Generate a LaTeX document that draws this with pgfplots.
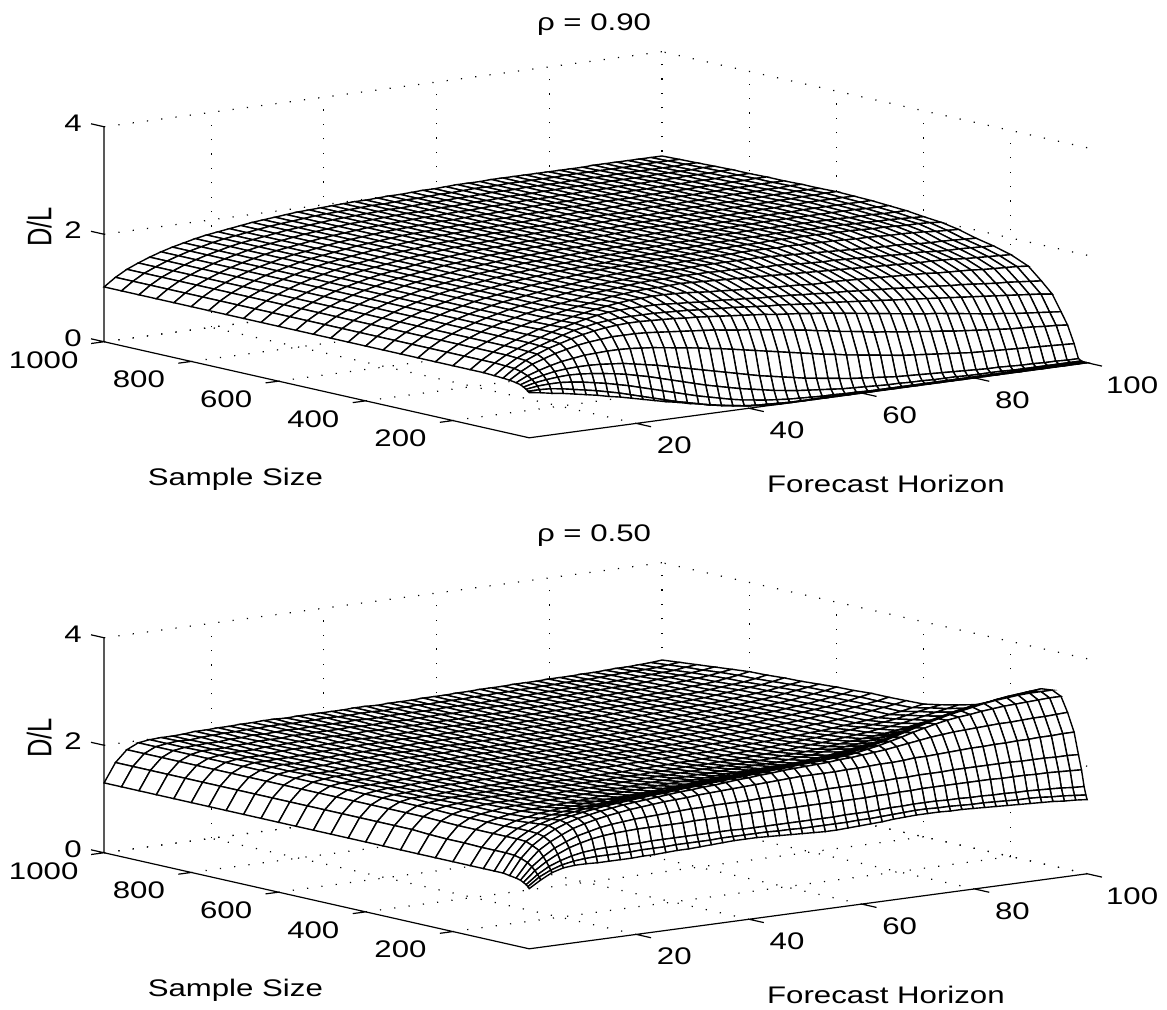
\documentclass[border=0pt]{standalone}
\usepackage{pgfplots}
\usepackage{fontspec}
\setmainfont[FakeStretch=1.3]{Liberation Sans}
\newfontfamily\rotf[FakeStretch=0.75]{Liberation Sans}
\pgfplotsset{compat=1.18}
\pgfplotsset{myax/.style={
  disabledatascaling,
  x={(2.818pt,0.379pt)},y={(-0.218pt,0.04925pt)},z={(0pt,26.875pt)},
  xmin=1,xmax=100,ymin=25,ymax=1000,zmin=0,zmax=4,
  xtick={20,40,60,80,100},ytick={200,400,600,800,1000},ztick={0,2,4},
  xticklabels={20,40,60,80,{\hspace*{7pt}100}},
  yticklabels={200,400,600,800,{\raisebox{-0.5pt}{1000}\hspace*{8pt}}},
  anchor=origin,clip=false,
  font=\fontsize{12}{13}\selectfont,
  /pgf/number format/assume math mode=true,
  tick label style={font=\fontsize{12}{13}\selectfont},
  grid=major,
  grid style={black,line width=0.6pt,dash pattern=on 0.6pt off 6.6pt},
  axis line style={draw=none},
  tick style={draw=none},
  major tick length=0pt,
  xticklabel style={anchor=center,xshift=19pt,yshift=-11pt},
  yticklabel style={anchor=center,xshift=-26.2pt,yshift=-9pt},
  zticklabel style={anchor=center,xshift=-15.5pt,yshift=2pt},
  xlabel={Forecast Horizon},ylabel={Sample Size},zlabel={\rotf\fontsize{17}{18}\selectfont D/L},
  xlabel style={at={(axis cs:64.3,25,-1.75)},anchor=center},
  ylabel style={at={(axis cs:1,699,-2.0)},anchor=center},
  zlabel style={at={(axis cs:1,1149,1.866)},anchor=center},
  title style={at={(axis cs:12.5,25,7.30)},anchor=center},
}}
\pgfplotsset{mysurf/.style={surf,shader=faceted,faceted color=black,colormap={w}{color=(white) color=(white)},line width=0.7pt,z buffer=sort,mesh/cols=50}}
\def\Tval{\ifcase\numexpr(\coordindex+25)/50-1\relax 1000\or 960\or 920\or 880\or 840\or 800\or 760\or 720\or 680\or 640\or 600\or 560\or 520\or 480\or 440\or 400\or 360\or 320\or 280\or 240\or 200\or 160\or 130\or 105\or 85\or 70\or 55\or 45\or 38\or 32\or 28\or 25\fi}
\newcommand\axlines{\addplot3[black,line width=0.6pt,unbounded coords=jump] coordinates {(1,1000,4)(1,1000,0)(1,25,0)(100,25,0)
 (1,1000,nan)(1,1000,0)(1,1030,0)(1,1000,nan)(1,1000,2)(1,1030,2)(1,1000,nan)(1,1000,4)(1,1030,4)
 (1,1000,nan)(20,25,0)(20,-9,0)(1,1000,nan)(40,25,0)(40,-9,0)(1,1000,nan)(60,25,0)(60,-9,0)(1,1000,nan)(80,25,0)(80,-9,0)(1,1000,nan)(100,25,0)(100,-9,0)
 (1,1000,nan)(1,200,0)(-1.3,200,0)(1,1000,nan)(1,400,0)(-1.3,400,0)(1,1000,nan)(1,600,0)(-1.3,600,0)(1,1000,nan)(1,800,0)(-1.3,800,0)(1,1000,nan)(1,1000,0)(-1.3,1000,0)};}
\begin{document}
\begin{tikzpicture}[x=1pt,y=1pt]
\path[use as bounding box] (0,0) rectangle (583.5,504.5);
\begin{axis}[myax,at={(264.6pt,285.6pt)},title={ρ = 0.90}]
\axlines
\addplot3[mysurf]
 table[x expr={1+99/49*mod(\coordindex,50)},y expr={\Tval},z index=0,header=false]{
1.02
1.17
1.29
1.38
1.46
1.53
1.59
1.64
1.69
1.73
1.76
1.79
1.82
1.85
1.87
1.89
1.91
1.93
1.94
1.95
1.96
1.97
1.98
1.98
1.99
2.00
2.00
2.01
2.02
2.02
2.03
2.04
2.04
2.04
2.05
2.05
2.05
2.05
2.05
2.05
2.05
2.05
2.05
2.06
2.06
2.06
2.06
2.06
2.06
2.06
1.02
1.17
1.29
1.38
1.46
1.53
1.59
1.64
1.69
1.73
1.76
1.79
1.82
1.85
1.87
1.89
1.91
1.93
1.94
1.95
1.96
1.97
1.98
1.98
1.99
2.00
2.00
2.01
2.02
2.02
2.03
2.04
2.04
2.04
2.05
2.05
2.05
2.05
2.05
2.06
2.06
2.06
2.06
2.06
2.06
2.06
2.07
2.07
2.07
2.07
1.02
1.17
1.29
1.38
1.46
1.53
1.59
1.64
1.69
1.73
1.76
1.79
1.82
1.85
1.87
1.89
1.91
1.93
1.94
1.95
1.96
1.97
1.98
1.98
1.99
2.00
2.00
2.01
2.02
2.02
2.03
2.04
2.04
2.04
2.05
2.05
2.05
2.05
2.06
2.06
2.06
2.06
2.07
2.07
2.07
2.07
2.07
2.07
2.08
2.08
1.02
1.17
1.29
1.38
1.46
1.53
1.59
1.64
1.69
1.73
1.76
1.79
1.82
1.85
1.87
1.89
1.91
1.93
1.94
1.95
1.96
1.97
1.98
1.98
1.99
2.00
2.00
2.01
2.02
2.02
2.03
2.04
2.04
2.04
2.05
2.05
2.06
2.06
2.06
2.06
2.07
2.07
2.07
2.07
2.08
2.08
2.08
2.08
2.09
2.09
1.02
1.17
1.29
1.38
1.46
1.53
1.59
1.64
1.69
1.73
1.76
1.79
1.82
1.85
1.87
1.89
1.91
1.93
1.94
1.95
1.96
1.97
1.98
1.98
1.99
2.00
2.00
2.01
2.02
2.02
2.03
2.04
2.04
2.04
2.05
2.05
2.06
2.06
2.06
2.07
2.07
2.07
2.08
2.08
2.08
2.09
2.09
2.09
2.10
2.10
1.02
1.17
1.29
1.38
1.46
1.53
1.59
1.64
1.69
1.73
1.76
1.79
1.82
1.85
1.87
1.89
1.91
1.93
1.94
1.95
1.96
1.97
1.98
1.98
1.99
2.00
2.00
2.01
2.02
2.02
2.03
2.04
2.04
2.04
2.05
2.05
2.06
2.06
2.07
2.07
2.07
2.08
2.08
2.08
2.09
2.09
2.09
2.10
2.10
2.10
1.02
1.17
1.29
1.38
1.46
1.53
1.59
1.64
1.69
1.73
1.76
1.79
1.82
1.85
1.87
1.89
1.91
1.93
1.94
1.95
1.96
1.97
1.98
1.98
1.99
2.00
2.00
2.01
2.02
2.02
2.03
2.04
2.04
2.04
2.05
2.06
2.06
2.06
2.07
2.07
2.08
2.08
2.08
2.09
2.09
2.09
2.10
2.10
2.11
2.11
1.02
1.17
1.29
1.38
1.46
1.53
1.59
1.64
1.69
1.73
1.76
1.79
1.82
1.85
1.87
1.89
1.91
1.93
1.94
1.95
1.96
1.97
1.98
1.98
1.99
2.00
2.00
2.01
2.02
2.02
2.03
2.04
2.04
2.04
2.05
2.06
2.06
2.07
2.07
2.08
2.08
2.08
2.09
2.09
2.10
2.10
2.10
2.11
2.11
2.11
1.02
1.17
1.29
1.38
1.46
1.53
1.59
1.64
1.69
1.73
1.76
1.79
1.82
1.85
1.87
1.89
1.91
1.93
1.94
1.95
1.96
1.97
1.98
1.98
1.99
2.00
2.00
2.01
2.02
2.02
2.03
2.04
2.04
2.04
2.05
2.06
2.07
2.07
2.07
2.08
2.08
2.09
2.09
2.10
2.10
2.10
2.11
2.11
2.12
2.12
1.02
1.17
1.29
1.38
1.46
1.53
1.59
1.64
1.69
1.73
1.76
1.79
1.82
1.85
1.87
1.89
1.91
1.93
1.94
1.95
1.96
1.97
1.98
1.98
1.99
2.00
2.00
2.01
2.02
2.02
2.03
2.04
2.04
2.05
2.05
2.06
2.07
2.07
2.08
2.08
2.09
2.09
2.09
2.10
2.10
2.11
2.11
2.12
2.12
2.12
1.02
1.17
1.29
1.38
1.46
1.53
1.59
1.64
1.69
1.73
1.76
1.79
1.82
1.85
1.87
1.89
1.91
1.93
1.94
1.95
1.96
1.97
1.98
1.98
1.99
2.00
2.00
2.01
2.02
2.02
2.03
2.04
2.05
2.05
2.06
2.07
2.07
2.08
2.08
2.08
2.09
2.09
2.10
2.10
2.11
2.11
2.12
2.12
2.13
2.13
1.02
1.17
1.29
1.38
1.46
1.53
1.59
1.64
1.69
1.73
1.76
1.79
1.82
1.85
1.87
1.89
1.91
1.93
1.94
1.95
1.96
1.97
1.98
1.98
1.99
2.00
2.00
2.01
2.02
2.03
2.04
2.05
2.05
2.06
2.06
2.07
2.08
2.08
2.08
2.09
2.09
2.10
2.10
2.11
2.11
2.12
2.12
2.12
2.12
2.12
1.02
1.17
1.29
1.38
1.46
1.53
1.59
1.64
1.69
1.73
1.76
1.79
1.82
1.85
1.87
1.89
1.91
1.93
1.94
1.95
1.96
1.97
1.98
1.98
1.99
2.00
2.00
2.01
2.02
2.03
2.04
2.05
2.06
2.06
2.07
2.07
2.08
2.08
2.09
2.09
2.10
2.10
2.10
2.11
2.11
2.11
2.11
2.11
2.11
2.11
1.02
1.17
1.29
1.38
1.46
1.53
1.59
1.64
1.69
1.73
1.76
1.79
1.82
1.85
1.87
1.89
1.91
1.93
1.94
1.95
1.96
1.97
1.98
1.98
1.99
2.00
2.01
2.02
2.03
2.04
2.05
2.06
2.06
2.07
2.07
2.08
2.09
2.09
2.10
2.10
2.10
2.10
2.10
2.10
2.10
2.10
2.10
2.09
2.09
2.09
1.02
1.17
1.29
1.38
1.46
1.53
1.59
1.64
1.69
1.73
1.76
1.79
1.82
1.85
1.87
1.89
1.91
1.93
1.94
1.95
1.96
1.97
1.98
1.99
2.00
2.01
2.02
2.03
2.04
2.05
2.05
2.06
2.07
2.08
2.08
2.09
2.09
2.09
2.09
2.09
2.09
2.09
2.09
2.09
2.08
2.08
2.08
2.07
2.07
2.07
1.02
1.17
1.29
1.38
1.46
1.53
1.59
1.64
1.69
1.73
1.76
1.79
1.82
1.85
1.87
1.89
1.91
1.93
1.94
1.95
1.96
1.97
1.99
2.00
2.01
2.02
2.03
2.03
2.04
2.05
2.06
2.07
2.07
2.08
2.08
2.08
2.09
2.09
2.09
2.08
2.08
2.08
2.08
2.07
2.07
2.06
2.06
2.05
2.04
2.03
1.02
1.17
1.29
1.38
1.46
1.53
1.59
1.64
1.69
1.73
1.76
1.79
1.82
1.85
1.87
1.89
1.91
1.93
1.95
1.97
1.98
1.99
2.00
2.01
2.02
2.03
2.03
2.04
2.05
2.05
2.06
2.07
2.07
2.07
2.08
2.08
2.08
2.08
2.08
2.07
2.07
2.07
2.06
2.05
2.05
2.04
2.03
2.03
2.02
2.00
1.02
1.17
1.29
1.38
1.46
1.53
1.59
1.64
1.69
1.73
1.76
1.79
1.82
1.85
1.87
1.89
1.92
1.94
1.96
1.97
1.99
2.00
2.01
2.01
2.02
2.03
2.03
2.04
2.05
2.05
2.06
2.06
2.06
2.05
2.06
2.05
2.05
2.04
2.04
2.03
2.02
2.02
2.01
2.00
2.00
1.99
1.98
1.96
1.95
1.94
1.02
1.17
1.29
1.38
1.46
1.53
1.59
1.64
1.69
1.73
1.76
1.79
1.82
1.85
1.88
1.90
1.93
1.95
1.96
1.98
1.99
2.00
2.01
2.01
2.02
2.03
2.03
2.03
2.03
2.03
2.03
2.02
2.01
2.00
1.99
1.98
1.97
1.96
1.95
1.94
1.93
1.92
1.92
1.91
1.89
1.88
1.88
1.87
1.86
1.85
1.02
1.17
1.29
1.38
1.46
1.53
1.59
1.64
1.69
1.73
1.76
1.79
1.82
1.86
1.90
1.92
1.94
1.96
1.98
1.99
1.99
2.00
2.00
2.00
2.00
1.99
1.99
1.98
1.97
1.96
1.96
1.95
1.93
1.92
1.91
1.91
1.90
1.89
1.88
1.87
1.86
1.85
1.85
1.84
1.82
1.81
1.81
1.80
1.79
1.78
1.02
1.17
1.29
1.38
1.46
1.53
1.59
1.64
1.69
1.73
1.77
1.81
1.84
1.88
1.91
1.93
1.95
1.96
1.96
1.97
1.98
1.97
1.96
1.95
1.94
1.93
1.92
1.91
1.90
1.89
1.88
1.87
1.86
1.85
1.84
1.83
1.82
1.81
1.80
1.79
1.78
1.77
1.77
1.76
1.75
1.73
1.72
1.71
1.70
1.69
1.02
1.17
1.29
1.38
1.46
1.53
1.60
1.65
1.70
1.75
1.79
1.83
1.86
1.89
1.91
1.92
1.93
1.93
1.92
1.91
1.89
1.87
1.86
1.84
1.83
1.82
1.80
1.79
1.78
1.77
1.75
1.75
1.75
1.74
1.73
1.72
1.71
1.70
1.69
1.68
1.67
1.65
1.64
1.63
1.62
1.60
1.59
1.58
1.57
1.55
1.02
1.17
1.29
1.38
1.46
1.53
1.60
1.66
1.71
1.76
1.80
1.83
1.84
1.85
1.85
1.85
1.84
1.82
1.81
1.79
1.78
1.77
1.75
1.74
1.72
1.71
1.70
1.69
1.67
1.66
1.64
1.63
1.62
1.60
1.59
1.57
1.56
1.54
1.52
1.51
1.49
1.47
1.46
1.44
1.42
1.40
1.39
1.37
1.35
1.33
1.01
1.16
1.28
1.37
1.45
1.52
1.59
1.65
1.69
1.73
1.75
1.77
1.77
1.77
1.77
1.76
1.75
1.74
1.72
1.71
1.69
1.68
1.66
1.64
1.62
1.61
1.59
1.57
1.55
1.54
1.52
1.50
1.48
1.46
1.44
1.42
1.40
1.38
1.36
1.34
1.32
1.30
1.28
1.26
1.24
1.22
1.20
1.18
1.16
1.13
1.00
1.15
1.27
1.36
1.44
1.50
1.56
1.61
1.65
1.68
1.70
1.71
1.71
1.70
1.69
1.68
1.66
1.65
1.63
1.61
1.59
1.57
1.55
1.53
1.50
1.48
1.46
1.43
1.41
1.38
1.35
1.32
1.29
1.26
1.23
1.20
1.17
1.14
1.12
1.09
1.06
1.03
1.00
0.97
0.95
0.92
0.90
0.88
0.86
0.84
0.99
1.12
1.23
1.30
1.37
1.42
1.47
1.50
1.52
1.54
1.54
1.54
1.53
1.51
1.49
1.47
1.45
1.43
1.41
1.38
1.35
1.33
1.30
1.27
1.24
1.21
1.18
1.14
1.11
1.07
1.04
1.01
0.97
0.95
0.92
0.89
0.87
0.84
0.82
0.79
0.77
0.75
0.73
0.71
0.69
0.68
0.67
0.65
0.64
0.62
0.97
1.07
1.14
1.20
1.25
1.28
1.31
1.32
1.33
1.33
1.32
1.30
1.28
1.25
1.22
1.19
1.16
1.12
1.09
1.05
1.01
0.97
0.93
0.89
0.85
0.81
0.77
0.73
0.70
0.66
0.63
0.60
0.57
0.54
0.51
0.49
0.47
0.45
0.43
0.41
0.39
0.38
0.37
0.36
0.35
0.34
0.33
0.32
0.31
0.30
0.95
1.02
1.07
1.11
1.13
1.14
1.14
1.13
1.11
1.09
1.05
1.01
0.97
0.92
0.87
0.82
0.77
0.72
0.67
0.62
0.57
0.52
0.48
0.44
0.40
0.36
0.33
0.30
0.27
0.24
0.22
0.20
0.18
0.16
0.15
0.14
0.13
0.12
0.11
0.10
0.09
0.08
0.08
0.07
0.06
0.06
0.05
0.05
0.04
0.04
0.92
0.97
1.00
1.02
1.03
1.02
1.00
0.97
0.94
0.90
0.85
0.80
0.74
0.68
0.62
0.56
0.50
0.45
0.40
0.35
0.31
0.27
0.23
0.20
0.17
0.15
0.13
0.11
0.09
0.08
0.07
0.06
0.05
0.05
0.04
0.04
0.03
0.03
0.03
0.02
0.02
0.02
0.02
0.01
0.01
0.01
0.01
0.01
0.01
0.01
0.89
0.92
0.93
0.93
0.91
0.88
0.84
0.80
0.75
0.70
0.64
0.58
0.52
0.46
0.40
0.34
0.29
0.24
0.19
0.15
0.12
0.09
0.07
0.05
0.04
0.03
0.02
0.02
0.01
0.01
0
0
0
0
0
0
0
0
0
0
0
0
0
0
0
0
0
0
0
0
0.86
0.86
0.85
0.82
0.78
0.74
0.70
0.65
0.60
0.54
0.48
0.42
0.36
0.30
0.25
0.20
0.15
0.11
0.08
0.05
0.03
0.02
0.01
0
0
0
0
0
0
0
0
0
0
0
0
0
0
0
0
0
0
0
0
0
0
0
0
0
0
0
0.84
0.81
0.77
0.74
0.70
0.66
0.62
0.57
0.53
0.48
0.43
0.38
0.33
0.29
0.24
0.20
0.16
0.12
0.08
0.05
0.03
0.01
0
0
0
0
0
0
0
0
0
0
0
0
0
0
0
0
0
0
0
0
0
0
0
0
0
0
0
0
};
\end{axis}
\begin{axis}[myax,at={(264.6pt,30.1pt)},title={ρ = 0.50}]
\axlines
\addplot3[mysurf]
 table[x expr={1+99/49*mod(\coordindex,50)},y expr={\Tval},z index=0,header=false]{
1.30
1.65
1.86
1.96
1.99
2.00
2.00
2.01
2.03
2.03
2.04
2.04
2.05
2.05
2.06
2.06
2.05
2.06
2.06
2.06
2.06
2.06
2.07
2.07
2.06
2.07
2.07
2.07
2.08
2.08
2.08
2.09
2.09
2.10
2.10
2.10
2.11
2.11
2.11
2.12
2.12
2.12
2.13
2.13
2.14
2.15
2.15
2.16
2.17
2.19
1.30
1.65
1.86
1.96
1.99
2.01
2.00
2.02
2.03
2.04
2.04
2.05
2.05
2.06
2.06
2.05
2.06
2.06
2.07
2.06
2.06
2.07
2.07
2.06
2.07
2.07
2.08
2.07
2.08
2.08
2.08
2.09
2.09
2.10
2.10
2.11
2.11
2.12
2.12
2.13
2.13
2.13
2.14
2.15
2.16
2.17
2.17
2.18
2.20
2.22
1.30
1.65
1.86
1.96
1.99
2.00
2.01
2.01
2.03
2.03
2.05
2.04
2.05
2.06
2.05
2.06
2.06
2.06
2.06
2.07
2.06
2.06
2.07
2.07
2.07
2.07
2.07
2.08
2.08
2.08
2.08
2.09
2.09
2.10
2.11
2.11
2.12
2.12
2.13
2.13
2.14
2.14
2.15
2.16
2.17
2.18
2.19
2.20
2.23
2.25
1.30
1.65
1.86
1.96
2.00
2.00
2.00
2.02
2.02
2.04
2.04
2.04
2.06
2.05
2.06
2.06
2.06
2.07
2.06
2.06
2.07
2.07
2.06
2.07
2.07
2.08
2.07
2.08
2.08
2.09
2.09
2.09
2.10
2.10
2.11
2.12
2.12
2.13
2.14
2.14
2.15
2.15
2.16
2.17
2.19
2.20
2.21
2.23
2.25
2.28
1.30
1.65
1.86
1.96
1.99
2.01
2.01
2.01
2.03
2.03
2.04
2.05
2.05
2.06
2.06
2.05
2.06
2.07
2.06
2.07
2.07
2.06
2.07
2.07
2.07
2.07
2.08
2.08
2.08
2.08
2.09
2.10
2.10
2.11
2.12
2.12
2.13
2.14
2.14
2.15
2.16
2.16
2.17
2.18
2.20
2.21
2.23
2.25
2.28
2.31
1.30
1.65
1.86
1.96
1.99
2.00
2.00
2.02
2.03
2.04
2.04
2.04
2.05
2.05
2.07
2.06
2.05
2.06
2.06
2.06
2.07
2.07
2.07
2.07
2.07
2.07
2.08
2.08
2.08
2.09
2.09
2.10
2.10
2.11
2.12
2.13
2.13
2.14
2.15
2.15
2.16
2.17
2.18
2.19
2.21
2.22
2.24
2.27
2.30
2.34
1.30
1.65
1.86
1.96
2.00
2.00
2.01
2.01
2.02
2.03
2.04
2.05
2.05
2.06
2.06
2.06
2.06
2.07
2.06
2.07
2.06
2.07
2.07
2.08
2.08
2.08
2.08
2.08
2.09
2.09
2.10
2.10
2.10
2.11
2.12
2.13
2.14
2.15
2.15
2.16
2.17
2.18
2.19
2.20
2.22
2.24
2.26
2.28
2.31
2.35
1.30
1.65
1.86
1.96
1.99
2.01
2.00
2.02
2.03
2.03
2.05
2.04
2.05
2.05
2.06
2.05
2.06
2.07
2.06
2.07
2.07
2.07
2.07
2.07
2.08
2.08
2.08
2.09
2.09
2.09
2.10
2.11
2.11
2.12
2.13
2.14
2.14
2.15
2.16
2.17
2.18
2.19
2.20
2.22
2.24
2.26
2.28
2.30
2.33
2.37
1.30
1.65
1.86
1.96
1.99
2.00
2.01
2.01
2.03
2.04
2.04
2.04
2.06
2.06
2.06
2.06
2.06
2.06
2.07
2.06
2.07
2.07
2.07
2.07
2.08
2.08
2.08
2.09
2.09
2.10
2.10
2.11
2.11
2.12
2.13
2.14
2.15
2.16
2.17
2.18
2.19
2.20
2.21
2.23
2.25
2.27
2.29
2.32
2.35
2.38
1.30
1.65
1.86
1.96
2.00
2.00
2.00
2.02
2.02
2.03
2.04
2.05
2.05
2.06
2.06
2.06
2.06
2.07
2.07
2.07
2.06
2.07
2.07
2.08
2.08
2.08
2.09
2.09
2.09
2.10
2.10
2.11
2.12
2.12
2.13
2.14
2.15
2.16
2.17
2.18
2.20
2.21
2.22
2.24
2.26
2.28
2.31
2.34
2.37
2.40
1.30
1.65
1.86
1.96
1.99
2.01
2.01
2.01
2.03
2.03
2.04
2.04
2.05
2.06
2.06
2.05
2.06
2.06
2.07
2.07
2.07
2.07
2.07
2.08
2.08
2.08
2.09
2.09
2.10
2.10
2.11
2.11
2.12
2.13
2.14
2.15
2.16
2.17
2.18
2.19
2.20
2.22
2.23
2.25
2.27
2.29
2.32
2.35
2.38
2.42
1.30
1.65
1.86
1.96
1.99
2.00
2.00
2.02
2.03
2.04
2.05
2.04
2.05
2.05
2.07
2.06
2.06
2.06
2.06
2.07
2.07
2.07
2.08
2.08
2.08
2.09
2.09
2.09
2.10
2.10
2.11
2.12
2.12
2.13
2.14
2.15
2.16
2.17
2.18
2.20
2.21
2.23
2.24
2.26
2.28
2.30
2.33
2.36
2.39
2.43
1.30
1.65
1.86
1.96
2.00
2.00
2.01
2.01
2.02
2.03
2.04
2.05
2.05
2.06
2.06
2.06
2.07
2.06
2.07
2.07
2.07
2.08
2.08
2.08
2.09
2.09
2.09
2.10
2.10
2.10
2.11
2.12
2.13
2.14
2.15
2.16
2.17
2.18
2.19
2.20
2.22
2.23
2.25
2.27
2.29
2.31
2.34
2.37
2.41
2.45
1.30
1.65
1.86
1.96
1.99
2.01
2.00
2.02
2.03
2.03
2.04
2.04
2.05
2.06
2.06
2.06
2.06
2.07
2.07
2.07
2.08
2.08
2.08
2.09
2.09
2.09
2.10
2.10
2.10
2.11
2.11
2.12
2.13
2.14
2.15
2.16
2.17
2.18
2.19
2.21
2.22
2.24
2.26
2.28
2.30
2.32
2.35
2.38
2.41
2.45
1.30
1.65
1.86
1.96
1.99
2.00
2.01
2.01
2.03
2.04
2.04
2.05
2.05
2.05
2.06
2.06
2.06
2.07
2.07
2.08
2.08
2.08
2.09
2.09
2.10
2.10
2.10
2.11
2.11
2.12
2.12
2.13
2.14
2.14
2.15
2.16
2.18
2.19
2.20
2.21
2.23
2.25
2.26
2.28
2.30
2.33
2.36
2.39
2.42
2.46
1.30
1.65
1.86
1.96
2.00
2.00
2.00
2.02
2.03
2.03
2.04
2.04
2.05
2.06
2.06
2.06
2.07
2.07
2.08
2.08
2.08
2.09
2.09
2.10
2.10
2.10
2.11
2.11
2.12
2.12
2.12
2.13
2.14
2.15
2.16
2.17
2.18
2.19
2.20
2.22
2.23
2.25
2.27
2.29
2.31
2.33
2.36
2.39
2.43
2.47
1.30
1.65
1.86
1.96
1.99
2.01
2.03
2.03
2.04
2.05
2.05
2.06
2.06
2.06
2.07
2.07
2.07
2.07
2.07
2.08
2.08
2.08
2.09
2.09
2.10
2.10
2.11
2.11
2.12
2.12
2.13
2.14
2.15
2.16
2.17
2.19
2.20
2.22
2.23
2.25
2.27
2.29
2.31
2.33
2.35
2.38
2.42
2.46
2.50
2.53
1.30
1.65
1.86
1.96
2.00
2.02
2.04
2.05
2.06
2.06
2.06
2.07
2.07
2.08
2.08
2.08
2.09
2.09
2.09
2.10
2.10
2.10
2.11
2.11
2.12
2.13
2.13
2.13
2.14
2.14
2.15
2.16
2.17
2.18
2.19
2.21
2.23
2.24
2.26
2.28
2.30
2.32
2.35
2.37
2.40
2.44
2.48
2.52
2.56
2.60
1.30
1.63
1.85
1.95
2.00
2.03
2.05
2.06
2.06
2.07
2.07
2.08
2.08
2.09
2.09
2.10
2.10
2.11
2.12
2.12
2.13
2.14
2.14
2.15
2.15
2.16
2.16
2.17
2.17
2.18
2.18
2.19
2.21
2.22
2.23
2.25
2.27
2.29
2.31
2.33
2.35
2.37
2.40
2.43
2.47
2.50
2.55
2.60
2.64
2.68
1.30
1.62
1.84
1.95
2.00
2.03
2.06
2.07
2.07
2.08
2.09
2.09
2.10
2.11
2.12
2.13
2.13
2.14
2.15
2.16
2.17
2.18
2.18
2.19
2.19
2.20
2.21
2.21
2.22
2.22
2.22
2.24
2.26
2.27
2.30
2.32
2.34
2.36
2.39
2.42
2.45
2.48
2.52
2.56
2.60
2.65
2.70
2.75
2.78
2.82
1.30
1.62
1.84
1.95
2.00
2.04
2.07
2.08
2.09
2.10
2.11
2.12
2.13
2.15
2.16
2.17
2.18
2.19
2.20
2.21
2.22
2.22
2.23
2.24
2.25
2.25
2.26
2.26
2.27
2.27
2.28
2.30
2.32
2.34
2.37
2.40
2.43
2.46
2.50
2.54
2.58
2.62
2.67
2.72
2.78
2.84
2.90
2.93
2.96
2.98
1.30
1.61
1.84
1.95
2.02
2.06
2.10
2.12
2.14
2.15
2.17
2.18
2.19
2.20
2.21
2.22
2.23
2.25
2.26
2.27
2.29
2.30
2.31
2.32
2.33
2.34
2.35
2.36
2.37
2.38
2.38
2.40
2.43
2.46
2.49
2.53
2.58
2.62
2.66
2.71
2.75
2.80
2.85
2.90
2.95
2.99
3.02
3.05
3.08
3.10
1.30
1.61
1.84
1.96
2.04
2.09
2.13
2.16
2.18
2.20
2.21
2.23
2.25
2.26
2.28
2.29
2.30
2.32
2.33
2.35
2.36
2.37
2.39
2.40
2.41
2.42
2.43
2.45
2.46
2.47
2.48
2.51
2.54
2.58
2.63
2.68
2.73
2.78
2.84
2.89
2.94
2.99
3.04
3.08
3.12
3.16
3.19
3.21
3.23
3.25
1.30
1.61
1.84
1.96
2.06
2.12
2.17
2.20
2.23
2.25
2.27
2.29
2.30
2.32
2.34
2.35
2.37
2.38
2.40
2.41
2.43
2.44
2.45
2.47
2.48
2.50
2.51
2.53
2.54
2.56
2.57
2.60
2.64
2.68
2.73
2.79
2.85
2.91
2.97
3.02
3.07
3.11
3.15
3.19
3.22
3.24
3.26
3.27
3.27
3.27
1.30
1.60
1.83
1.95
2.07
2.14
2.19
2.23
2.26
2.29
2.31
2.33
2.35
2.37
2.38
2.40
2.42
2.43
2.45
2.46
2.48
2.49
2.51
2.52
2.54
2.55
2.57
2.58
2.59
2.61
2.62
2.65
2.69
2.73
2.78
2.83
2.89
2.94
2.99
3.03
3.06
3.08
3.11
3.13
3.15
3.16
3.17
3.18
3.19
3.19
1.28
1.57
1.78
1.92
2.03
2.11
2.17
2.21
2.25
2.28
2.31
2.33
2.35
2.37
2.39
2.41
2.42
2.44
2.45
2.47
2.49
2.50
2.52
2.53
2.55
2.56
2.57
2.58
2.59
2.61
2.62
2.64
2.66
2.68
2.71
2.74
2.77
2.80
2.82
2.84
2.85
2.86
2.87
2.88
2.88
2.89
2.90
2.90
2.91
2.92
1.26
1.52
1.72
1.85
1.95
2.04
2.10
2.15
2.19
2.22
2.25
2.27
2.29
2.31
2.32
2.33
2.35
2.36
2.37
2.38
2.39
2.40
2.41
2.42
2.43
2.44
2.44
2.44
2.44
2.45
2.45
2.46
2.47
2.47
2.48
2.50
2.50
2.51
2.52
2.53
2.54
2.54
2.55
2.55
2.56
2.56
2.57
2.57
2.58
2.58
1.24
1.46
1.62
1.75
1.84
1.92
1.97
2.02
2.05
2.07
2.09
2.10
2.11
2.12
2.13
2.14
2.14
2.15
2.15
2.15
2.15
2.16
2.16
2.16
2.16
2.16
2.16
2.17
2.17
2.17
2.17
2.18
2.18
2.19
2.19
2.20
2.20
2.20
2.21
2.21
2.21
2.21
2.21
2.21
2.20
2.20
2.20
2.19
2.19
2.18
1.21
1.40
1.54
1.65
1.74
1.80
1.85
1.88
1.90
1.91
1.92
1.92
1.92
1.92
1.92
1.93
1.93
1.93
1.93
1.93
1.93
1.93
1.93
1.93
1.93
1.93
1.93
1.93
1.93
1.93
1.93
1.94
1.94
1.95
1.95
1.96
1.96
1.96
1.96
1.96
1.96
1.96
1.95
1.95
1.95
1.94
1.94
1.93
1.92
1.91
1.18
1.34
1.46
1.54
1.60
1.64
1.66
1.67
1.67
1.67
1.67
1.68
1.68
1.68
1.68
1.68
1.68
1.68
1.68
1.67
1.67
1.67
1.67
1.67
1.67
1.67
1.67
1.67
1.68
1.68
1.68
1.69
1.70
1.70
1.71
1.71
1.71
1.70
1.70
1.69
1.69
1.68
1.68
1.67
1.67
1.66
1.65
1.64
1.62
1.61
1.15
1.30
1.40
1.47
1.51
1.53
1.54
1.54
1.54
1.54
1.55
1.55
1.55
1.56
1.56
1.56
1.56
1.57
1.57
1.57
1.57
1.57
1.56
1.56
1.55
1.55
1.55
1.55
1.55
1.56
1.56
1.57
1.58
1.59
1.60
1.60
1.59
1.59
1.58
1.57
1.57
1.56
1.55
1.54
1.54
1.53
1.51
1.50
1.48
1.46
1.12
1.25
1.36
1.42
1.44
1.44
1.43
1.43
1.43
1.43
1.44
1.44
1.45
1.46
1.46
1.47
1.48
1.49
1.50
1.50
1.50
1.49
1.48
1.47
1.46
1.45
1.44
1.44
1.45
1.46
1.47
1.48
1.50
1.51
1.52
1.52
1.52
1.51
1.51
1.50
1.49
1.48
1.47
1.46
1.45
1.44
1.43
1.41
1.40
1.38
};
\end{axis}
\end{tikzpicture}
\end{document}
